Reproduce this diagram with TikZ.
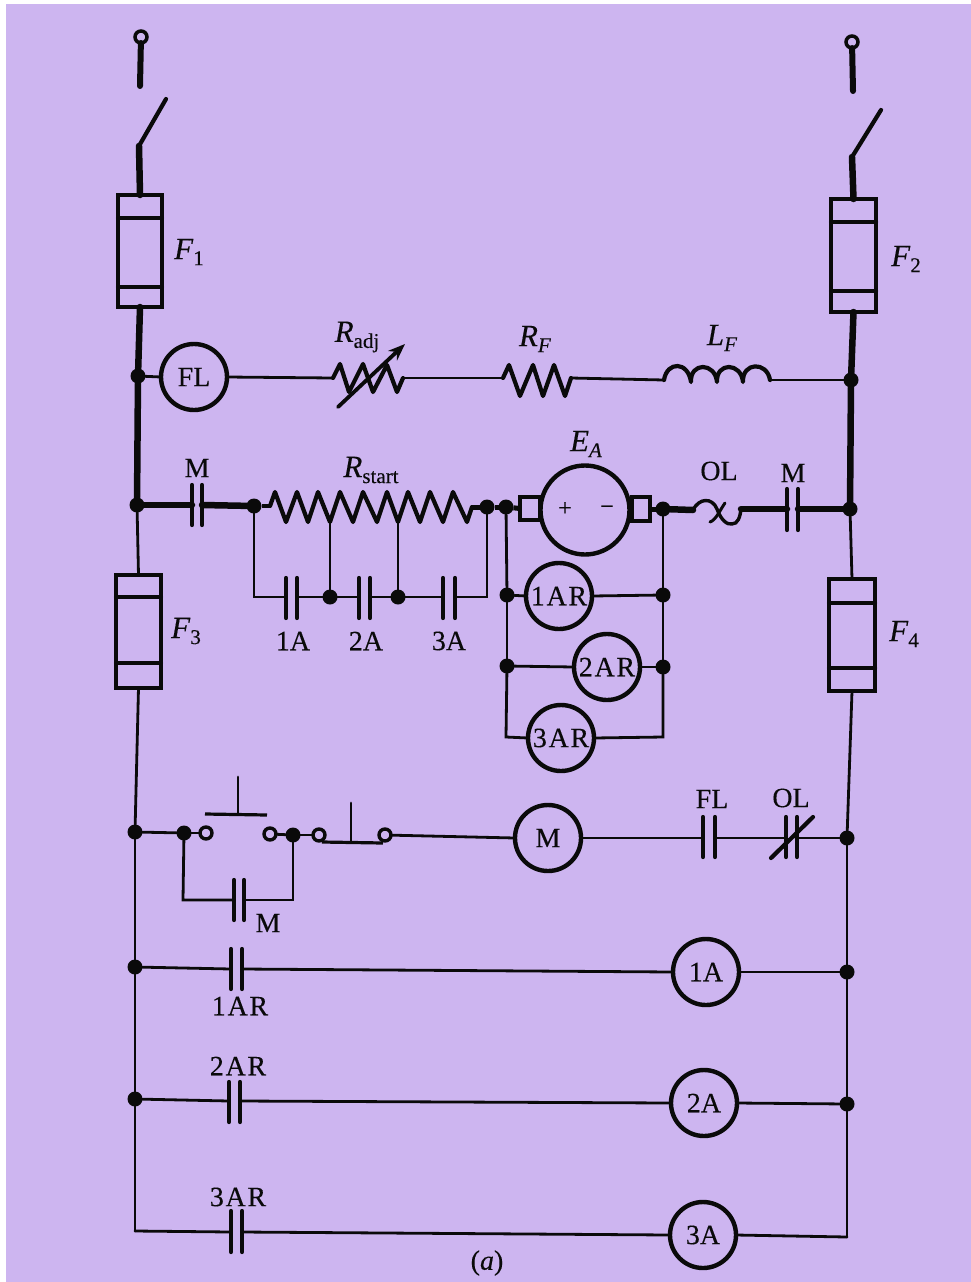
\documentclass[tikz,border=0pt]{standalone}
\usepackage{fontspec}
\setmainfont[FakeBold=0.25]{Liberation Serif}
\newfontfamily\spacedfont[LetterSpace=6,FakeBold=0.25]{Liberation Serif}
\usetikzlibrary{arrows.meta}
\definecolor{bgc}{HTML}{CDB5F0}
\definecolor{ink}{HTML}{0A0A0A}
\newcommand{\lblfont}{\fontsize{28}{30}\selectfont}
\newcommand{\sublab}[2]{{\fontsize{31}{31}\selectfont\textit{#1}}\raisebox{-6pt}{\fontsize{21}{21}\selectfont #2}}
\tikzset{
  wire/.style={draw=ink,line width=2.8pt,line cap=round,line join=miter},
  bus/.style={draw=ink,line width=6.5pt,line cap=round},
  part/.style={draw=ink,line width=4.2pt,line cap=round,line join=round},
  jn/.style={circle,fill=ink,inner sep=0pt,minimum size=15pt,outer sep=0pt},
  openc/.style={circle,draw=ink,line width=3.4pt,inner sep=0pt,minimum size=12pt,outer sep=0pt},
  coil/.style={circle,draw=ink,line width=4.4pt,inner sep=0pt,minimum size=66pt,outer sep=0pt,text=ink,font=\lblfont},
  lab/.style={text=ink,font=\lblfont,inner sep=0pt},
  fusebody/.style={rectangle,draw=ink,line width=4.5pt,inner sep=0pt,outer sep=0pt}
}
% name, x left, x right, y top, y bottom, y wire
\newcommand{\contactat}[6]{%
  \coordinate (#1-l) at (#2,#6);
  \coordinate (#1-r) at (#3,#6);
  \draw[part] (#2,#4) -- (#2,#5);
  \draw[part] (#3,#4) -- (#3,#5);
}
% name, x1, y1, x2, y2, band1, band2
\newcommand{\fuseat}[7]{%
  \pgfmathsetmacro{\fw}{#4-#2}\pgfmathsetmacro{\fh}{#5-#3}
  \node[fusebody,minimum width=\fw pt,minimum height=\fh pt] (#1) at ({(#2+#4)/2},{(#3+#5)/2}) {};
  \draw[part] (#2,#6) -- (#4,#6);
  \draw[part] (#2,#7) -- (#4,#7);
}
\begin{document}
\begin{tikzpicture}[x=1pt,y=-1pt]
\useasboundingbox (0,0) rectangle (971,1282);
\fill[bgc] (6,4) rectangle (971,1282);

% --- disconnect switches
\node[openc,line width=3.5pt,minimum size=12pt] (tl) at (141,37) {};
\coordinate (tlb) at (140,86);
\draw[line width=6pt,draw=ink,line cap=round] (tl) -- (tlb);
\node[openc,line width=3.5pt,minimum size=12pt] (tr) at (852,42) {};
\coordinate (trb) at (853,91);
\draw[line width=6pt,draw=ink,line cap=round] (tr) -- (trb);
\coordinate (sl1) at (166,99); \coordinate (sl2) at (139,146);
\draw[part] (sl1) -- (sl2);
\coordinate (sr1) at (881,110); \coordinate (sr2) at (852,157);
\draw[part] (sr1) -- (sr2);

% --- fuses
\fuseat{F1}{118}{195}{162}{307}{218}{287}
\fuseat{F2}{831}{199}{876}{312}{222}{291}
\fuseat{F3}{116}{575}{161}{688}{597}{663}
\fuseat{F4}{829}{579}{875}{691}{603}{668}
\node[lab] (lF1) at (189,252) {\sublab{F}{1}};
\node[lab] (lF2) at (906,259) {\sublab{F}{2}};
\node[lab] (lF3) at (186,631) {\sublab{F}{3}};
\node[lab] (lF4) at (904,634) {\sublab{F}{4}};

% --- junctions
\node[jn] (a1) at (138,376) {};
\node[jn] (a2) at (137,505) {};
\node[jn] (b1) at (851,380) {};
\node[jn] (b2) at (850,509) {};
\node[jn] (r0) at (254,506) {};
\node[jn] (r1) at (487,507) {};
\node[jn] (r2) at (506,507) {};
\node[jn] (r3) at (663,509) {};
\node[jn] (s1) at (330,597) {};
\node[jn] (s2) at (398,597) {};
\node[jn] (p1) at (507,595) {};
\node[jn] (p2) at (507,666) {};
\node[jn] (q1) at (663,595) {};
\node[jn] (q2) at (663,667) {};
\node[jn] (c1) at (135,832) {};
\node[jn] (c2) at (184,833) {};
\node[jn] (c3) at (293,835) {};
\node[jn] (d1) at (847,838) {};
\node[jn] (e1) at (135,967) {};
\node[jn] (e2) at (847,972) {};
\node[jn] (f1) at (135,1099) {};
\node[jn] (f2) at (847,1104) {};

% --- buses
\draw[bus] (sl2) -- (F1.north);
\draw[bus] (sr2) -- (F2.north);
\draw[bus] (F1.south) -- (a1);
\draw[bus] (a1) -- (a2);
\draw[bus] (F2.south) -- (b1);
\draw[bus] (b1) -- (b2);

% --- field circuit
\node[coil] (FL) at (194,377) {FL};
\draw[wire] (a1) -- (FL.west);
\coordinate (ra) at (333,378); \coordinate (rb) at (403,378);
\draw[wire] (FL.east) -- (ra);
\draw[part] (ra) -- (340,364) -- (349,392) -- (363,364) -- (373,392) -- (387,365) -- (397,392) -- (rb);
\coordinate (ar1) at (338,407); \coordinate (ar2) at (405,344);
\draw[draw=ink,line width=3.8pt,line cap=round,-{Stealth[length=17pt,width=13pt]}] (ar1) -- (ar2);
\coordinate (rc) at (503,378); \coordinate (rd) at (571,378);
\draw[wire] (rb) -- (rc);
\draw[part] (rc) -- (509,365) -- (520,396) -- (533,365) -- (543,396) -- (554,365) -- (565,396) -- (rd);
\coordinate (la) at (664,380); \coordinate (lb) at (770,380);
\draw[wire] (rd) -- (la);
\draw[part] (la) .. controls (667,361) and (688,361) .. (691,382)
  .. controls (690,362) and (715,362) .. (717,382)
  .. controls (716,362) and (741,362) .. (743,382)
  .. controls (742,362) and (767,361) .. (lb);
\draw[wire] (lb) -- (b1);
\node[lab] (lRadj) at (357,337) {\sublab{R}{adj}};
\node[lab] (lRF) at (535,339) {\sublab{R}{\textit{F}}};
\node[lab] (lLF) at (722,338) {\sublab{L}{\textit{F}}};

% --- armature circuit
\contactat{M1}{192}{202}{485}{525}{505}
\draw[bus] (a2) -- (M1-l);
\draw[bus] (M1-r) -- (r0);
\node[lab] (lM1) at (197,468) {M};
\coordinate (zs) at (270,506); \coordinate (ze) at (472,507);
\draw[line width=4.2pt,draw=ink] (r0) -- (zs);
\coordinate (v1) at (330,522); \coordinate (v2) at (398,522);
\draw[part] (zs) -- (275,492) -- (286,522) -- (297,492) -- (308,522) -- (318,492) -- (v1) -- (340,492) -- (353,522) -- (363,492) -- (377,522) -- (387,492) -- (v2) -- (408,492) -- (420,522) -- (430,492) -- (443,522) -- (453,492) -- (467,522) -- (ze);
\draw[line width=5pt,draw=ink] (ze) -- (r1);
\node[lab] (lRs) at (371,470) {\sublab{R}{start}};
\node[rectangle,draw=ink,line width=4.2pt,minimum width=20pt,minimum height=23pt,inner sep=0,outer sep=0] (bl) at (530,508.5) {};
\node[rectangle,draw=ink,line width=4.2pt,minimum width=18pt,minimum height=24pt,inner sep=0,outer sep=0] (br) at (641,509) {};
\draw[line width=5pt,draw=ink] (r1) -- (r2);
\draw[line width=5pt,draw=ink] (r2) -- (bl.west);
\node[coil,minimum size=89pt,fill=bgc] (motor) at (585,510) {};
\node[text=ink,font=\fontsize{24}{24}\selectfont,inner sep=0] (plus) at (565,509) {+};
\node[text=ink,font=\fontsize{24}{24}\selectfont,inner sep=0] (minus) at (607,510) {−};
\node[lab] (lEA) at (586,444) {\sublab{E}{\textit{A}}};
\draw[line width=5pt,draw=ink] (br.east) -- (r3);
\coordinate (ol1) at (693,510); \coordinate (ol2) at (741,509);
\draw[bus] (r3) -- (ol1);
\draw[draw=ink,line width=3.4pt,line cap=round] (ol1) .. controls (699,498) and (712,497) .. (717,509)
  .. controls (721,520) and (727,525) .. (732,524) .. controls (738,524) and (740,517) .. (ol2);
\coordinate (ol3) at (710,522); \coordinate (ol4) at (725,503);
\draw[draw=ink,line width=3pt,line cap=round] (ol3) .. controls (716,520) and (720,510) .. (ol4);
\contactat{M2}{787}{798}{489}{530}{509}
\draw[bus] (ol2) -- (M2-l);
\draw[bus] (M2-r) -- (b2);
\node[lab] (lOL) at (719,471) {OL};
\node[lab] (lM2) at (793,473) {M};

% --- accelerating contacts
\contactat{A1}{286}{297}{578}{618}{597}
\contactat{A2}{359}{370}{578}{618}{597}
\contactat{A3}{443}{455}{578}{618}{597}
\coordinate (g1) at (254,597); \coordinate (g2) at (487,597);
\draw[wire] (r0) -- (g1) -- (A1-l);
\draw[wire] (A1-r) -- (s1);
\draw[wire] (s1) -- (A2-l);
\draw[wire] (A2-r) -- (s2);
\draw[wire] (s2) -- (A3-l);
\draw[wire] (A3-r) -- (g2) -- (r1);
\draw[wire] (v1) -- (s1);
\draw[wire] (v2) -- (s2);
\node[lab] (l1A) at (293,641) {1A};
\node[lab] (l2A) at (366,641) {2A};
\node[lab] (l3A) at (449,641) {3A};

% --- relay coils across armature
\node[coil,font=\lblfont\spacedfont] (AR1) at (559,596) {1AR};
\node[coil,font=\lblfont\spacedfont] (AR2) at (607,667) {2AR};
\node[coil,font=\lblfont\spacedfont] (AR3) at (561,738) {3AR};
\coordinate (h1) at (506,737); \coordinate (h2) at (663,737);
\draw[wire] (r2) -- (p1); \draw[wire] (p1) -- (p2); \draw[wire] (p2) -- (h1) -- (AR3.west);
\draw[wire] (r3) -- (q1); \draw[wire] (q1) -- (q2); \draw[wire] (q2) -- (h2) -- (AR3.east);
\draw[wire] (p1) -- (AR1.west); \draw[wire] (AR1.east) -- (q1);
\draw[wire] (p2) -- (AR2.west); \draw[wire] (AR2.east) -- (q2);

% --- control bus
\draw[wire] (a2) -- (F3.north);
\draw[wire] (b2) -- (F4.north);
\draw[wire] (F3.south) -- (c1);
\draw[wire] (c1) -- (e1);
\draw[wire] (e1) -- (f1);
\coordinate (cb1) at (135,1231);
\coordinate (cb2) at (847,1237);
\draw[wire] (f1) -- (cb1);
\draw[wire] (F4.south) -- (d1);
\draw[wire] (d1) -- (e2);
\draw[wire] (e2) -- (f2);
\draw[wire] (f2) -- (cb2);

% --- start / stop line
\node[openc] (o1) at (206,833) {};
\node[openc] (o2) at (270,834) {};
\node[openc] (o3) at (319,835) {};
\node[openc] (o4) at (385,835) {};
\draw[wire] (c1) -- (c2);
\draw[wire] (c2) -- (o1);
\draw[wire] (o2) -- (c3);
\draw[wire] (c3) -- (o3);
\coordinate (st1) at (205,814); \coordinate (st2) at (267,815);
\coordinate (st3) at (238,777); \coordinate (st4) at (238,814);
\draw[line width=3.2pt,draw=ink] (st1) -- (st2);
\draw[wire] (st3) -- (st4);
\coordinate (sp1) at (322,842); \coordinate (sp2) at (383,843);
\coordinate (sp3) at (351,803); \coordinate (sp4) at (351,842);
\draw[line width=3.2pt,draw=ink] (sp1) -- (sp2);
\draw[wire] (sp3) -- (sp4);
\node[coil] (Mc) at (548,838) {M};
\draw[wire] (o4) -- (Mc.west);
\contactat{FLc}{703}{715}{817}{857}{838}
\draw[wire] (Mc.east) -- (FLc-l);
\node[lab] (lFL) at (712,799) {FL};
\contactat{OLc}{786}{797}{817}{857}{838}
\draw[wire] (FLc-r) -- (OLc-l);
\draw[wire] (OLc-r) -- (d1);
\coordinate (os1) at (771,858); \coordinate (os2) at (813,817);
\draw[part] (os1) -- (os2);
\node[lab] (lOL2) at (791,798) {OL};
\contactat{Ma}{234}{244}{880}{920}{900}
\coordinate (m1) at (183,900); \coordinate (m2) at (293,900);
\draw[wire] (c2) -- (m1) -- (Ma-l);
\draw[wire] (Ma-r) -- (m2) -- (c3);
\node[lab] (lMa) at (268,923) {M};

% --- accelerating relay lines
\contactat{K1}{231}{242}{949}{989}{969}
\node[coil] (A1c) at (706,972) {1A};
\draw[wire] (e1) -- (K1-l);
\draw[wire] (K1-r) -- (A1c.west);
\draw[wire] (A1c.east) -- (e2);
\node[lab] (l1AR) at (240,1006) {\spacedfont 1AR};
\contactat{K2}{229}{240}{1082}{1122}{1101}
\node[coil] (A2c) at (704,1103) {2A};
\draw[wire] (f1) -- (K2-l);
\draw[wire] (K2-r) -- (A2c.west);
\draw[wire] (A2c.east) -- (f2);
\node[lab] (l2AR) at (238,1066) {\spacedfont 2AR};
\contactat{K3}{231}{242}{1211}{1252}{1232}
\node[coil] (A3c) at (703,1235) {3A};
\draw[wire] (cb1) -- (K3-l);
\draw[wire] (K3-r) -- (A3c.west);
\draw[wire] (A3c.east) -- (cb2);
\node[lab] (l3AR) at (238,1197) {\spacedfont 3AR};
\node[lab] (cap) at (487,1263) {(\textit{a})};
\end{tikzpicture}
\end{document}
